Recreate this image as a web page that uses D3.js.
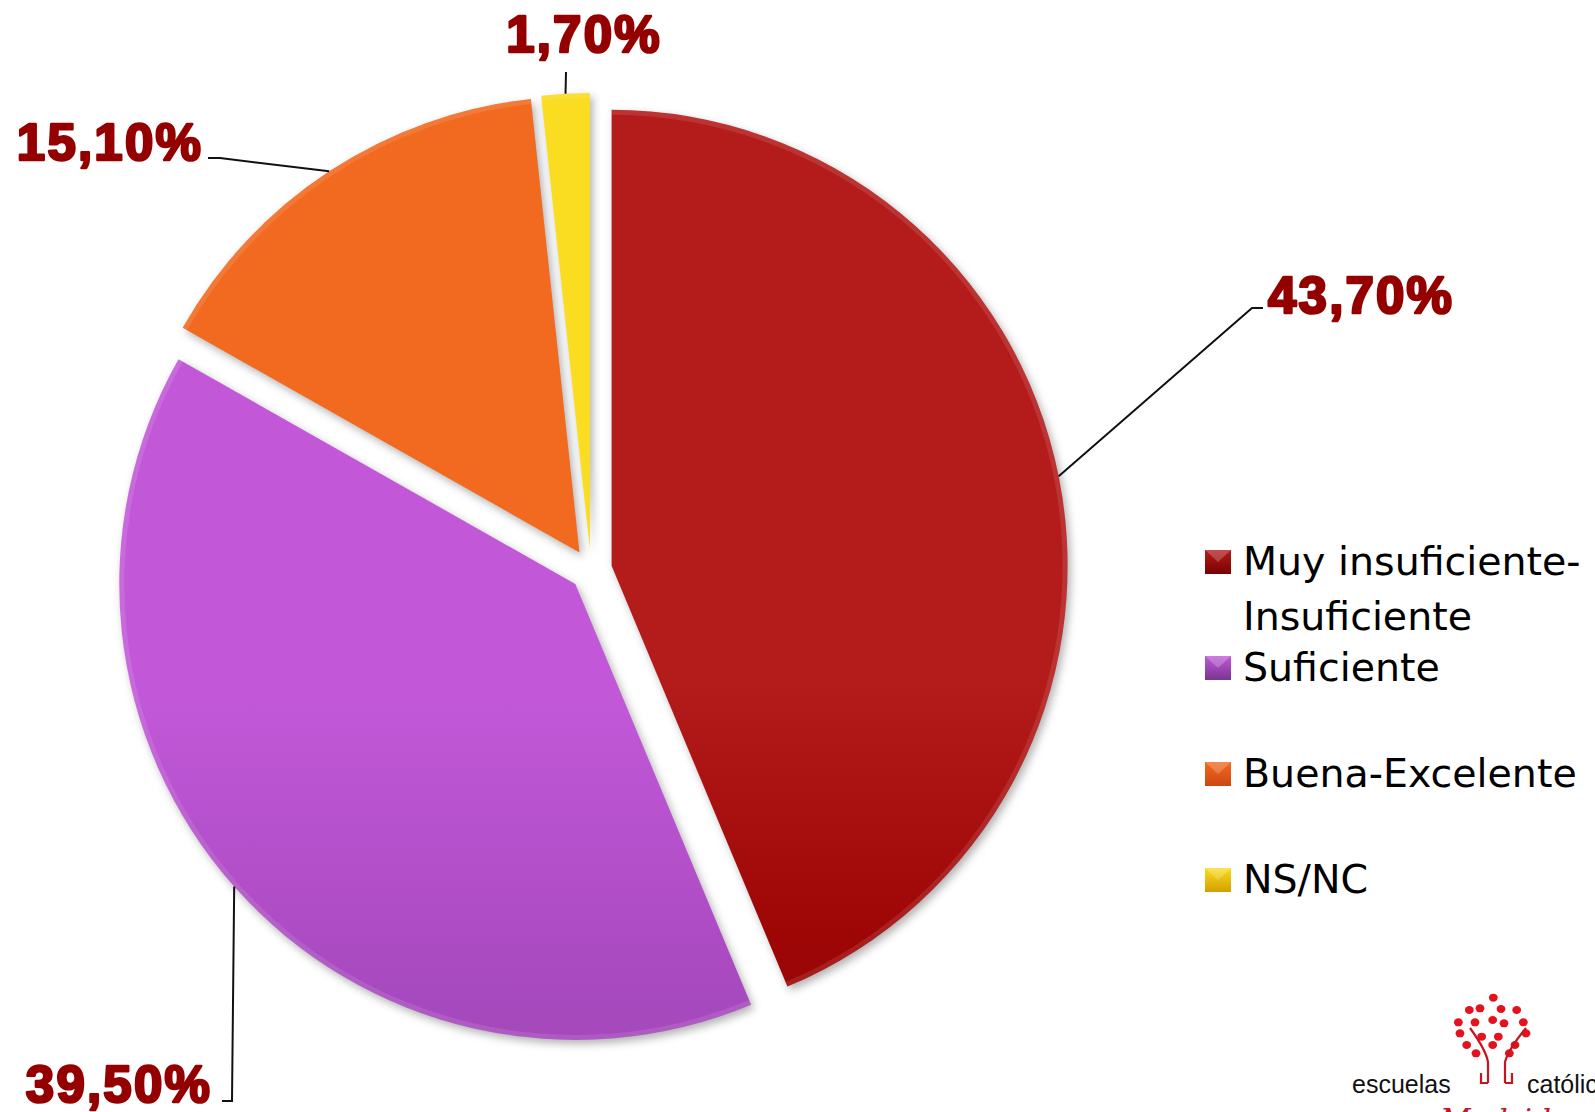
<!DOCTYPE html>
<html>
<head>
<meta charset="utf-8">
<script src="https://cdn.jsdelivr.net/npm/d3@7"></script>
<style>
  html, body { margin: 0; padding: 0; background: #fff; overflow: hidden; }
  svg { display: block; }
</style>
</head>
<body>
<svg id="chart"></svg>
<script>
'use strict';

var WIDTH = 1595;
var HEIGHT = 1112;

// data
var categories = ["Muy insuficiente-Insuficiente", "Suficiente", "Buena-Excelente", "NS/NC"];
var legendLines = [["Muy insuficiente-", "Insuficiente"], ["Suficiente"], ["Buena-Excelente"], ["NS/NC"]];
var values = [43.7, 39.5, 15.1, 1.7];

// colours: top, middle, bottom of each slice
var topColors = ["#b41c1c", "#c258d8", "#f26a20", "#fadc20"];
var midColors = ["#9e0606", "#ab4bc2", "#ea5d18", "#f0c600"];
var botColors = ["#7a0000", "#773690", "#cc4810", "#d4a000"];

var CX = 591, CY = 570, RADIUS = 456, EXPLODE = 21;
var PIE_TOP = CY - RADIUS, PIE_BOT = CY + RADIUS;

// where each data label sits and how its leader line bends
var labelLayout = [
  { x: 1268, y: 313, anchor: "start",  elbow: [1252, 308], end: [1263, 308] },
  { x: 212,  y: 1102, anchor: "end",   elbow: [232, 1101], end: [222, 1101] },
  { x: 203,  y: 160, anchor: "end",    elbow: [220, 158], end: [208, 158] },
  { x: 584,  y: 52,  anchor: "middle", elbow: [566, 72],  end: null }
];

var esLocale = d3.formatLocale({ decimal: ",", thousands: ".", grouping: [3], currency: ["", "€"] });
var fmt = esLocale.format(".2f");

var svg = d3.select("#chart").attr("width", WIDTH).attr("height", HEIGHT);
var defs = svg.append("defs");

var shadow = defs.append("filter").attr("id", "shadow")
  .attr("color-interpolation-filters", "sRGB")
  .attr("x", "-10%").attr("y", "-10%").attr("width", "130%").attr("height", "130%");
shadow.append("feDropShadow").attr("dx", 3).attr("dy", 4)
  .attr("stdDeviation", 4).attr("flood-color", "#000").attr("flood-opacity", 0.3);

values.forEach(function(v, i) {
  var g = defs.append("linearGradient").attr("id", "grad" + i)
    .attr("gradientUnits", "userSpaceOnUse")
    .attr("x1", 0).attr("y1", PIE_TOP).attr("x2", 0).attr("y2", PIE_BOT);
  g.append("stop").attr("offset", "0%").attr("stop-color", topColors[i]);
  g.append("stop").attr("offset", "28%").attr("stop-color", midColors[i]);
  g.append("stop").attr("offset", "100%").attr("stop-color", botColors[i]);

  var s = defs.append("linearGradient").attr("id", "sw" + i)
    .attr("x1", 0).attr("y1", 0).attr("x2", 0).attr("y2", 1);
  s.append("stop").attr("offset", "0%").attr("stop-color", topColors[i]);
  s.append("stop").attr("offset", "100%").attr("stop-color", botColors[i]);
});

var pie = d3.pie().sort(null).value(function(d) { return d; });
var arcs = pie(values);

var arc = d3.arc().innerRadius(0).outerRadius(RADIUS);

function offsetOf(a) {
  var mid = (a.startAngle + a.endAngle) / 2;
  return [EXPLODE * Math.sin(mid), -EXPLODE * Math.cos(mid)];
}

var slices = svg.append("g").attr("transform", "translate(" + CX + "," + CY + ")");

var slice = slices.selectAll("g.slice")
  .data(arcs)
  .enter().append("g")
  .attr("class", "slice")
  .attr("transform", function(d) {
    var o = offsetOf(d);
    return "translate(" + o[0] + "," + o[1] + ")";
  });

slice.append("path")
  .attr("d", arc)
  .attr("fill", function(d, i) { return "url(#grad" + i + ")"; })
  .attr("filter", "url(#shadow)");

// thin light edge along the outer arc, like the bevel in the original
var edgeArc = d3.arc().innerRadius(RADIUS - 5).outerRadius(RADIUS);
slice.append("path")
  .attr("d", edgeArc)
  .attr("fill", "#fff")
  .attr("fill-opacity", 0.1);

// leader lines
var leaders = svg.append("g");
arcs.forEach(function(d, i) {
  var o = offsetOf(d);
  var mid = (d.startAngle + d.endAngle) / 2;
  var sx = CX + o[0] + RADIUS * Math.sin(mid);
  var sy = CY + o[1] - RADIUS * Math.cos(mid);
  var L = labelLayout[i];
  var pts = [[sx, sy], L.elbow];
  if (L.end) pts.push(L.end);
  leaders.append("path")
    .attr("d", d3.line()(pts))
    .attr("fill", "none")
    .attr("stroke", "#111")
    .attr("stroke-width", 2);
});

// data labels
svg.append("g").selectAll("text")
  .data(values)
  .enter().append("text")
  .attr("x", function(d, i) { return labelLayout[i].x; })
  .attr("y", function(d, i) { return labelLayout[i].y; })
  .attr("text-anchor", function(d, i) { return labelLayout[i].anchor; })
  .attr("font-family", "'Liberation Sans', Arial, sans-serif")
  .attr("font-weight", "bold")
  .attr("font-size", 51)
  .attr("letter-spacing", 2.2)
  .attr("fill", "#940000")
  .attr("stroke", "#940000")
  .attr("stroke-width", 2.6)
  .attr("stroke-linejoin", "round")
  .text(function(d) { return fmt(d) + "%"; });

// legend
var LEG_X = 1205, LEG_Y = 575, LEG_STEP = 106;
var legend = svg.append("g");
var item = legend.selectAll("g")
  .data(categories)
  .enter().append("g")
  .attr("transform", function(d, i) { return "translate(" + LEG_X + "," + (LEG_Y + i * LEG_STEP) + ")"; });

item.append("rect")
  .attr("x", 0).attr("y", -25).attr("width", 26).attr("height", 24)
  .attr("fill", function(d, i) { return "url(#sw" + i + ")"; });
item.append("path")
  .attr("d", "M0,-25 L13,-13 L26,-25 Z")
  .attr("fill", "#fff").attr("fill-opacity", 0.22);

item.append("text")
  .attr("font-family", "'DejaVu Sans', Verdana, sans-serif")
  .attr("font-size", 39.5)
  .attr("fill", "#000")
  .selectAll("tspan")
  .data(function(d, i) { return legendLines[i]; })
  .enter().append("tspan")
  .attr("x", 38)
  .attr("y", function(d, j) { return j * 55; })
  .text(function(d) { return d; });

// logo, bottom right (the reference crops it at the page edge)
var logo = svg.append("g");
var dots = [[220,38],[148,75],[180,70],[243,72],[290,75],[115,112],[165,112],[218,105],[252,115],[310,112],
            [120,145],[185,155],[235,155],[318,145],[140,180],[218,180],[285,180],[168,205],[268,205]];
logo.selectAll("ellipse").data(dots).enter().append("ellipse")
  .attr("cx", function(d) { return 1420 + d[0] / 3; })
  .attr("cy", function(d) { return 985 + d[1] / 3; })
  .attr("rx", 4.4).attr("ry", 4)
  .attr("fill", "#e3121e");
logo.append("path")
  .attr("d", "M1470,1028 Q1486,1050 1488,1062 L1488,1083 M1526,1028 Q1508,1050 1505,1062 L1505,1083 " +
             "M1481,1073 L1481,1083 L1488,1083 M1512,1073 L1512,1083 L1505,1083")
  .attr("fill", "none").attr("stroke", "#c8141e").attr("stroke-width", 2.2);
logo.append("text").attr("x", 1352).attr("y", 1093)
  .attr("font-family", "'Liberation Sans', Arial, sans-serif").attr("font-size", 25)
  .attr("fill", "#111").text("escuelas");
logo.append("text").attr("x", 1527).attr("y", 1093)
  .attr("font-family", "'Liberation Sans', Arial, sans-serif").attr("font-size", 25)
  .attr("fill", "#111").text("católicas");
logo.append("text").attr("x", 1440).attr("y", 1130)
  .attr("font-family", "'DejaVu Serif', serif").attr("font-style", "italic").attr("font-size", 30)
  .attr("fill", "#c8141e").text("Madrid");
</script>
</body>
</html>
